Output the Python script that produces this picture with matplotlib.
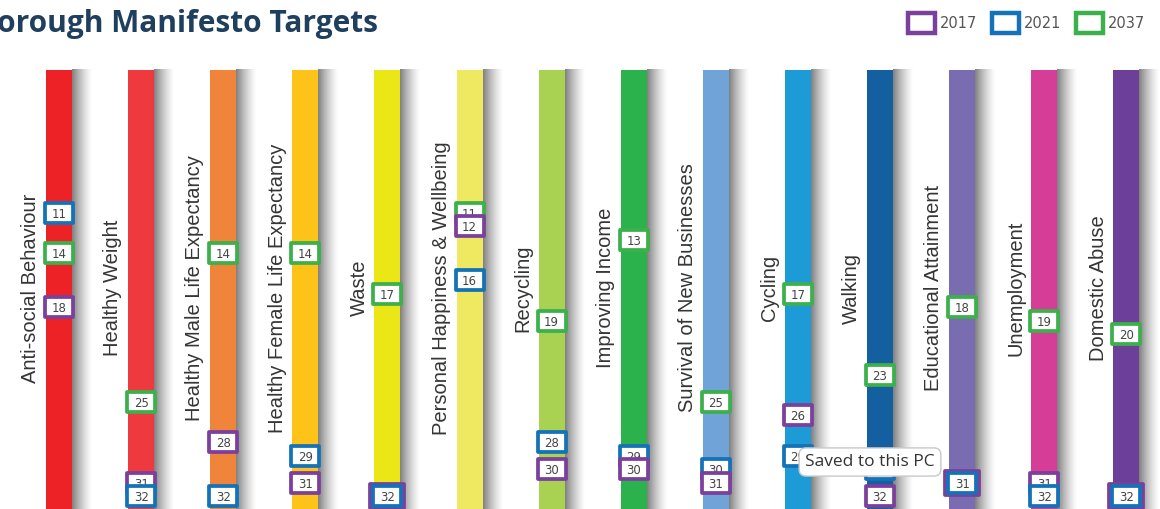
import matplotlib.pyplot as plt
import numpy as np
from matplotlib.patches import Patch
from matplotlib.path import Path

categories = ['Anti-social Behaviour', 'Healthy Weight', 'Healthy Male Life Expectancy',
              'Healthy Female Life Expectancy', 'Waste', 'Personal Happiness & Wellbeing',
              'Recycling', 'Improving Income', 'Survival of New Businesses', 'Cycling',
              'Walking', 'Educational Attainment', 'Unemployment', 'Domestic Abuse']
bar_colors = ['#ec2227', '#ee3a3f', '#f0843a', '#fdc318', '#ebe616', '#efe962', '#a9d152',
              '#2bb24c', '#70a3d8', '#1c9bd7', '#145fa0', '#7a6cb1', '#d63d96', '#6c3f98']

# borough ranking (1 = best) per year
years = ['2017', '2021', '2037']
rank_2017 = [18, 31, 28, 31, 32, 12, 30, 30, 31, 26, 32, 31, 31, 32]
rank_2021 = [11, 32, 32, 29, 32, 16, 28, 29, 30, 29, 30, 31, 32, 32]
rank_2037 = [14, 25, 14, 14, 17, 11, 19, 13, 25, 17, 23, 18, 19, 20]
year_colors = ['#7b3f9c', '#1472b8', '#3cb04a']

fig = plt.figure(figsize=(11.6, 5.09), dpi=100)
ax = fig.add_axes([0, 0, 1, 1])

x = np.arange(len(categories))
w = 0.317
ax.bar(x, 40, bottom=0.4, width=w, color=bar_colors, zorder=2)

# soft grey shadow on the right of every bar
grad = np.zeros((1, 64, 4))
grad[..., :3] = 0.42
grad[..., 3] = np.linspace(0.9, 0, 64) ** 1.4
for i in x:
    ax.imshow(grad, extent=(i + w / 2, i + w / 2 + 0.25, 40, 0.4), aspect='auto',
              interpolation='bilinear', zorder=1)

for i, name in enumerate(categories):
    ax.text(i - w / 2 - 0.07, 16.56, name, rotation=90, ha='right', va='center',
            fontsize=14.5, color='#353535', family='Liberation Sans')

# rank boxes: wide rectangle marker with the rank written inside
box = Path([(-1.4, -1), (1.4, -1), (1.4, 1), (-1.4, 1), (-1.4, -1)],
           [Path.MOVETO, Path.LINETO, Path.LINETO, Path.LINETO, Path.CLOSEPOLY])
ranks = [rank_2017, rank_2021, rank_2037]
for i in x:
    marks = sorted([(ranks[k][i], k) for k in range(3)])
    for v, k in marks:
        tie = any(v == vv and kk != k for vv, kk in marks)
        outer = tie and k == 0
        z = 5 + v * 0.1 + (0 if outer else 0.05)
        ax.scatter([i], [v], marker=box, s=600 if outer else 400, facecolor='white',
                   edgecolor=year_colors[k], linewidth=2.7, zorder=z)
        ax.text(i, v, str(v), ha='center', va='center_baseline', fontsize=8.5,
                color='#444444', family='DejaVu Sans', zorder=z + 0.01)

ax.set_xlim(-0.719, 13.41)
ax.set_ylim(32.93, -4.78)
ax.axis('off')

fig.text(378 / 1160, 1 - 32 / 509, 'Borough Manifesto Targets', ha='right', va='baseline',
         fontsize=21.5, fontweight='bold', color='#1f3f5f', family='Open Sans')

handles = [Patch(facecolor='white', edgecolor=c, linewidth=3.2) for c in year_colors]
fig.legend(handles, years, loc='upper left', bbox_to_anchor=(908 / 1160, 1 - 13 / 509),
           ncol=3, frameon=False, borderpad=0, borderaxespad=0,
           handlelength=1.85, handleheight=1.75, handletextpad=0.35, columnspacing=1.0,
           labelcolor='#555555', prop={'family': 'DejaVu Sans', 'size': 10.5})

fig.text(870 / 1160, 1 - 462 / 509, 'Saved to this PC', ha='center', va='center',
         fontsize=12.5, color='#333333', family='Open Sans', zorder=10,
         bbox=dict(boxstyle='round,pad=0.35,rounding_size=0.4', fc='white',
                   ec='#c8c8c8', lw=1))

fig.savefig('out.png', dpi=100)
